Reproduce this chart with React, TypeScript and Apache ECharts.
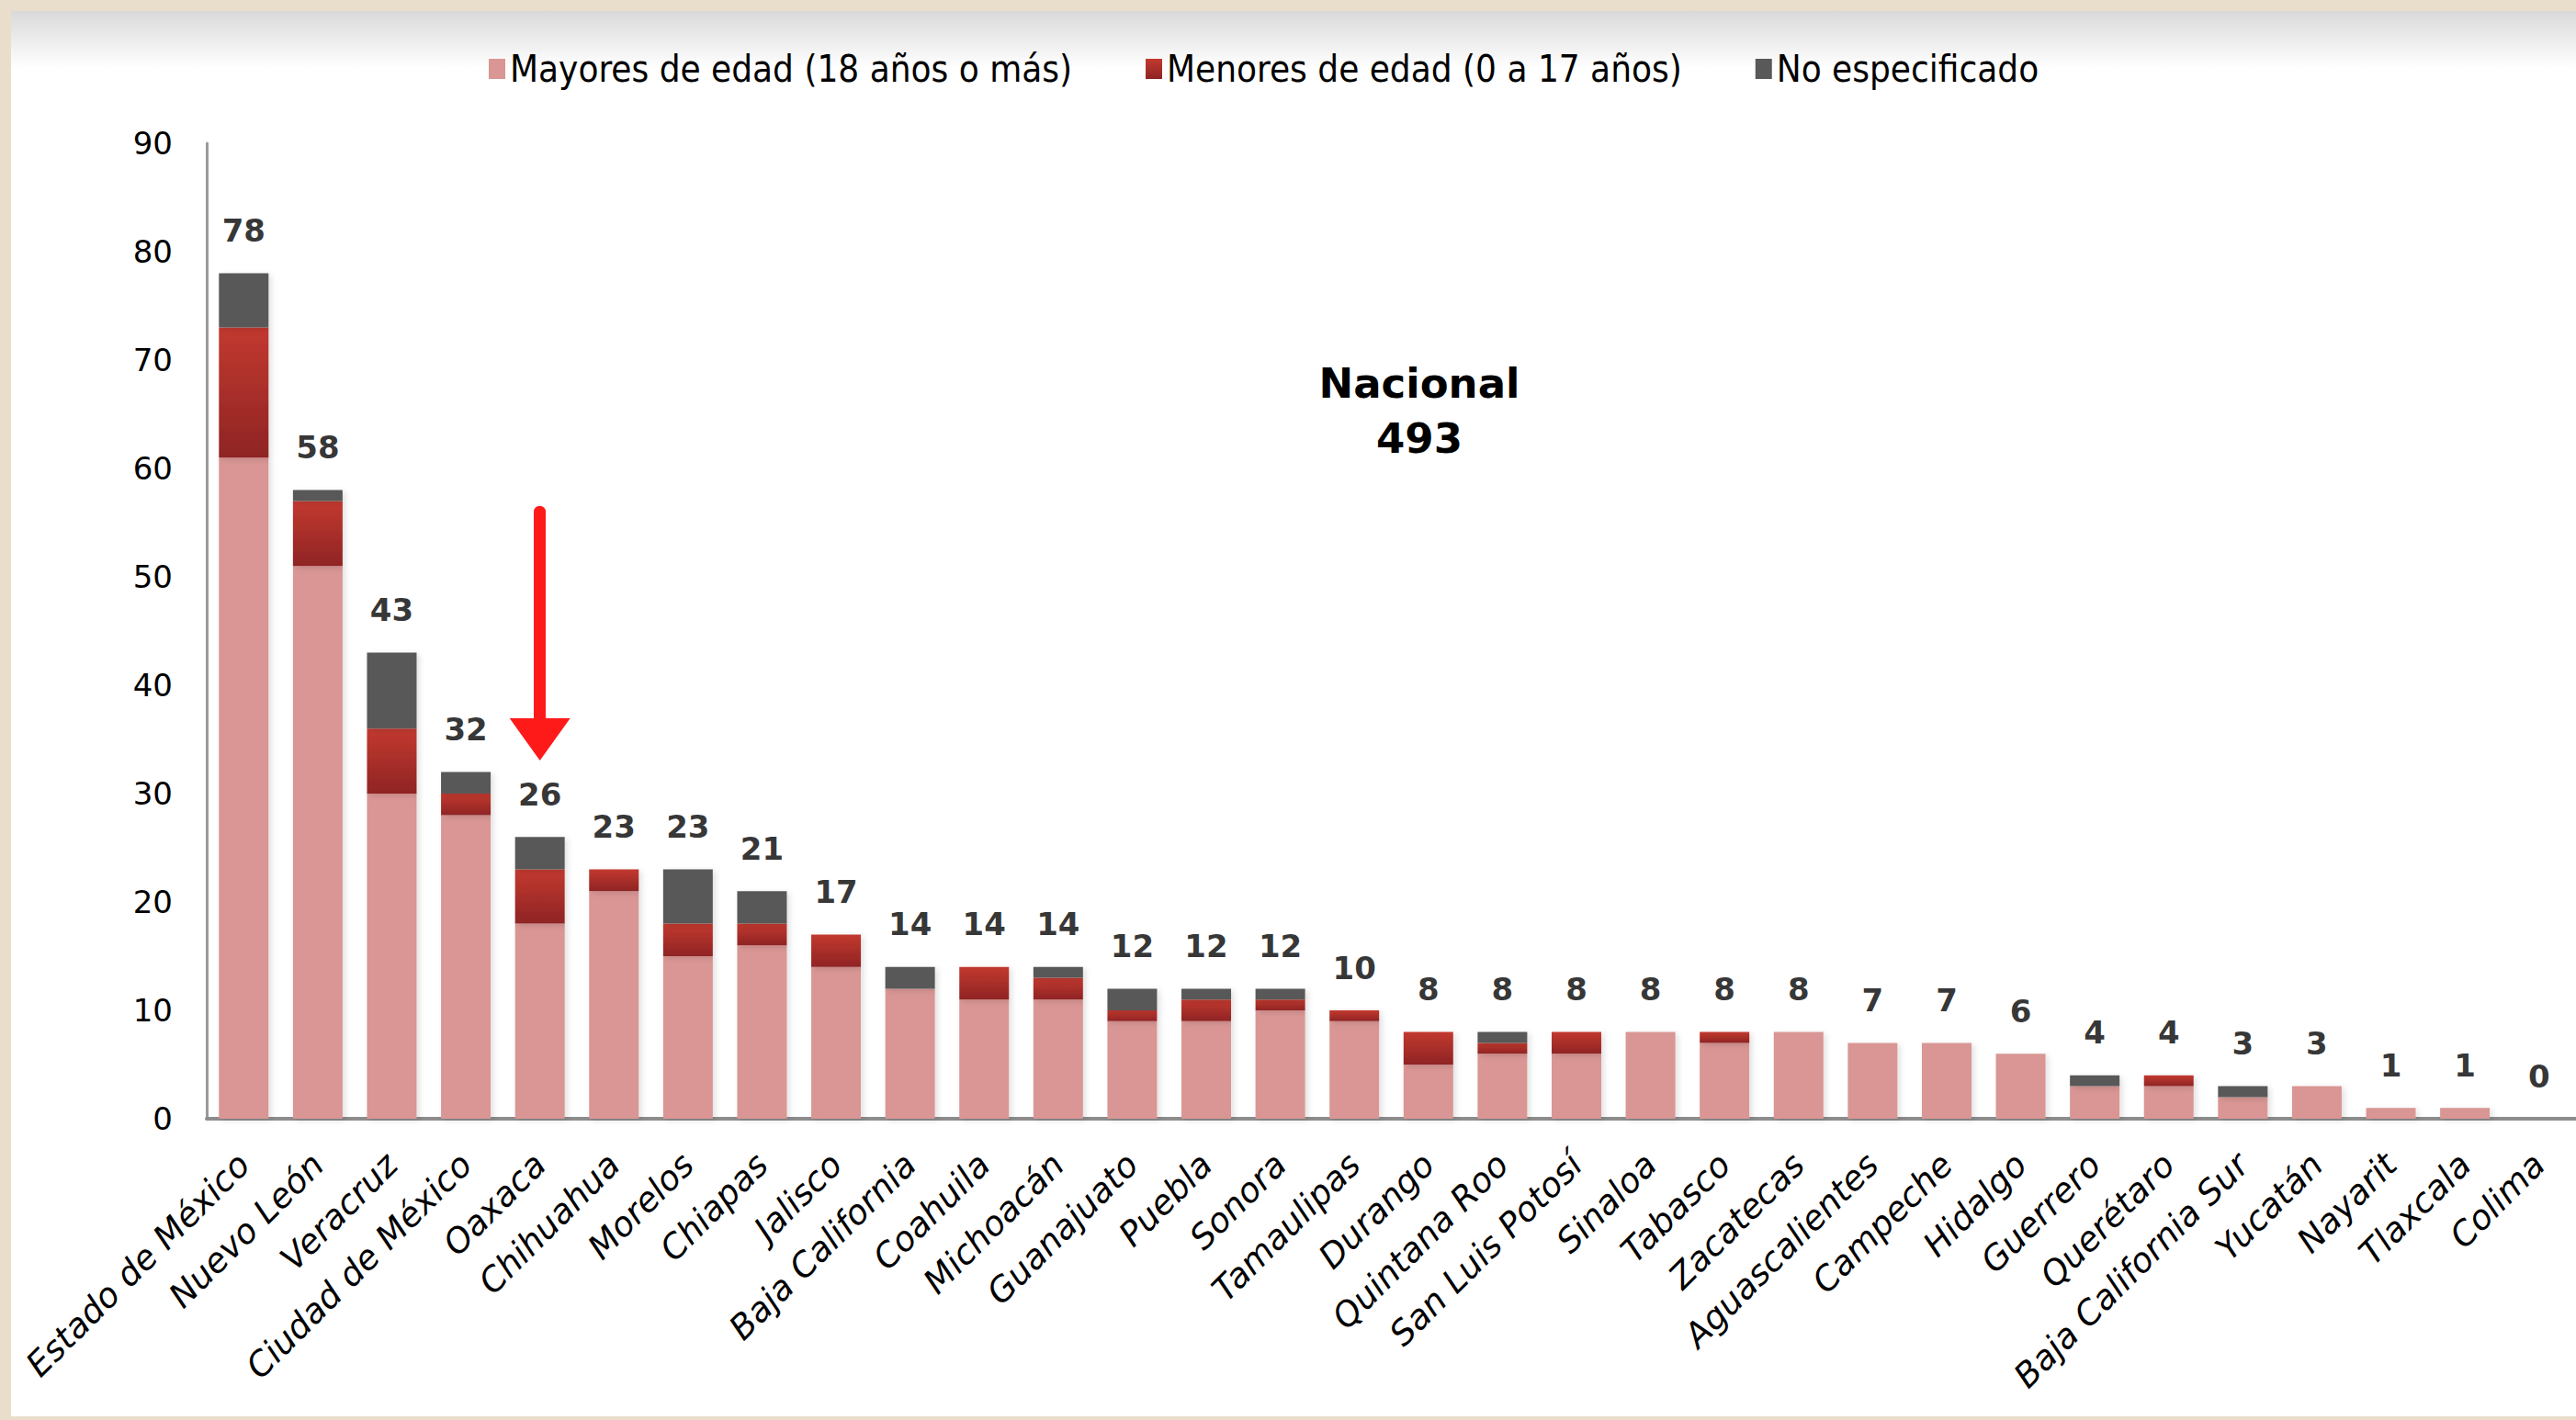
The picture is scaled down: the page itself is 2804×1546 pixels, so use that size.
import React, { useEffect, useRef } from "react";
import * as echarts from "echarts";

const categories = [
  "Estado de México", "Nuevo León", "Veracruz", "Ciudad de México", "Oaxaca", "Chihuahua",
  "Morelos", "Chiapas", "Jalisco", "Baja California", "Coahuila", "Michoacán", "Guanajuato",
  "Puebla", "Sonora", "Tamaulipas", "Durango", "Quintana Roo", "San Luis Potosí", "Sinaloa",
  "Tabasco", "Zacatecas", "Aguascalientes", "Campeche", "Hidalgo", "Guerrero", "Querétaro",
  "Baja California Sur", "Yucatán", "Nayarit", "Tlaxcala", "Colima",
];
const mayores = [61, 51, 30, 28, 18, 21, 15, 16, 14, 12, 11, 11, 9, 9, 10, 9, 5, 6, 6, 8, 7, 8, 7, 7, 6, 3, 3, 2, 3, 1, 1, 0];
const menores = [12, 6, 6, 2, 5, 2, 3, 2, 3, 0, 3, 2, 1, 2, 1, 1, 3, 1, 2, 0, 1, 0, 0, 0, 0, 0, 1, 0, 0, 0, 0, 0];
const noEspecificado = [5, 1, 7, 2, 3, 0, 5, 3, 0, 2, 0, 1, 2, 1, 1, 0, 0, 1, 0, 0, 0, 0, 0, 0, 0, 1, 0, 1, 0, 0, 0, 0];
const totals = [78, 58, 43, 32, 26, 23, 23, 21, 17, 14, 14, 14, 12, 12, 12, 10, 8, 8, 8, 8, 8, 8, 7, 7, 6, 4, 4, 3, 3, 1, 1, 0];
const yTicks = [0, 10, 20, 30, 40, 50, 60, 70, 80, 90];
const seriesNames = ["Mayores de edad (18 años o más)", "Menores de edad (0 a 17 años)", "No especificado"];
const nacionalText = ["Nacional", "493"];
const arrowCategory = "Oaxaca";
const arrowFrom = 56;
const arrowTo = 35;

export default function App() {
  const ref = useRef<HTMLDivElement>(null);

  useEffect(() => {
    document.body.style.margin = "0";
    if (!ref.current) return;
    const chart = echarts.init(ref.current, null, { renderer: "svg" });

    const barShadow = {
      shadowColor: "rgba(0,0,0,0.12)",
      shadowBlur: 6,
      shadowOffsetX: 3,
      shadowOffsetY: 2,
    };

    const option: any = {
      animation: false,
      backgroundColor: "transparent",
      graphic: [
        {
          type: "rect",
          z: -100,
          silent: true,
          shape: { x: 0, y: 0, width: 2804, height: 1546 },
          style: { fill: "#E8DECB" },
        },
        {
          type: "rect",
          z: -99,
          silent: true,
          shape: { x: 12, y: 12, width: 2792, height: 1530 },
          style: { fill: "#FFFFFF" },
        },
        {
          type: "rect",
          z: -98,
          silent: true,
          shape: { x: 12, y: 12, width: 2792, height: 62 },
          style: {
            fill: new echarts.graphic.LinearGradient(0, 0, 0, 1, [
              { offset: 0, color: "#D9D9D9" },
              { offset: 1, color: "#FFFFFF" },
            ]),
          },
        },
        {
          type: "text",
          x: 1545,
          y: 447,
          z: 10,
          style: {
            text: nacionalText.join("\n"),
            align: "center",
            verticalAlign: "middle",
            fontFamily: "'DejaVu Sans', sans-serif",
            fontWeight: "bold",
            fontSize: 45,
            lineHeight: 60,
            fill: "#000000",
          },
        },
      ],
      legend: {
        data: seriesNames,
        left: 527,
        top: 50,
        icon: "rect",
        itemWidth: 18,
        itemHeight: 22,
        itemGap: 80,
        textStyle: {
          fontFamily: "'DejaVu Sans Condensed', 'Liberation Sans Narrow', sans-serif",
          fontSize: 40,
          color: "#000000",
        },
      },
      grid: {
        left: 225,
        right: 0,
        top: 156,
        bottom: 328,
        containLabel: false,
      },
      xAxis: {
        type: "category",
        data: categories,
        boundaryGap: true,
        axisLine: { show: true, lineStyle: { color: "#8C8C8C", width: 4 } },
        axisTick: { show: false },
        axisLabel: {
          interval: 0,
          rotate: 45,
          margin: 44,
          fontFamily: "'DejaVu Sans', sans-serif",
          fontStyle: "italic",
          fontSize: 37,
          color: "#000000",
        },
      },
      yAxis: {
        type: "value",
        min: yTicks[0],
        max: yTicks[yTicks.length - 1],
        interval: 10,
        axisLine: { show: true, lineStyle: { color: "#9A9A9A", width: 3 } },
        axisTick: { show: false },
        splitLine: { show: false },
        axisLabel: {
          margin: 37,
          fontFamily: "'DejaVu Sans', sans-serif",
          fontSize: 34,
          color: "#000000",
        },
      },
      series: [
        {
          name: seriesNames[0],
          type: "bar",
          stack: "total",
          barWidth: 54,
          data: mayores,
          itemStyle: { color: "#D99694", ...barShadow },
        },
        {
          name: seriesNames[1],
          type: "bar",
          stack: "total",
          barWidth: 54,
          data: menores,
          itemStyle: {
            color: new echarts.graphic.LinearGradient(0, 0, 0, 1, [
              { offset: 0, color: "#C2392F" },
              { offset: 1, color: "#8F2424" },
            ]),
            ...barShadow,
          },
        },
        {
          name: seriesNames[2],
          type: "bar",
          stack: "total",
          barWidth: 54,
          data: noEspecificado,
          itemStyle: { color: "#595959", ...barShadow },
        },
        {
          name: "Total",
          type: "scatter",
          data: totals,
          symbolSize: 1,
          itemStyle: { color: "transparent" },
          silent: true,
          label: {
            show: true,
            position: "top",
            distance: 29,
            fontFamily: "'DejaVu Sans', sans-serif",
            fontWeight: "bold",
            fontSize: 34,
            color: "#000000",
          },
          markLine: {
            silent: true,
            symbol: ["none", "triangle"],
            symbolSize: [66, 46],
            label: { show: false },
            lineStyle: { color: "#FF1A1A", width: 13, type: "solid", cap: "round", opacity: 1 },
            data: [
              [
                { coord: [arrowCategory, arrowFrom] },
                { coord: [arrowCategory, arrowTo] },
              ],
            ],
          },
          z: 5,
        },
      ],
    };

    chart.setOption(option);
    return () => chart.dispose();
  }, []);

  return <div ref={ref} style={{ width: 2804, height: 1546 }} />;
}
